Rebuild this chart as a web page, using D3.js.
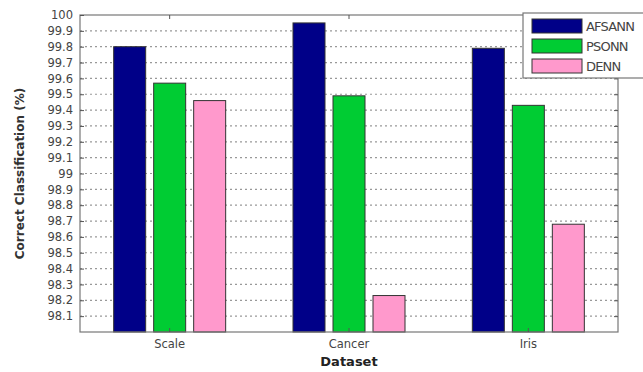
<!DOCTYPE html>
<html><head><meta charset="utf-8">
<script src="https://cdn.jsdelivr.net/npm/d3@7"></script>
<style>body{margin:0;background:#fff;} svg{display:block;}</style>
</head><body>
<svg id="c" width="643" height="372"></svg>
<script>
const categories = ["Scale", "Cancer", "Iris"];
const seriesNames = ["AFSANN", "PSONN", "DENN"];
const AFSANN = [99.80, 99.95, 99.79];
const PSONN = [99.57, 99.49, 99.43];
const DENN = [99.46, 98.23, 98.68];
const yTicks = [98.1,98.2,98.3,98.4,98.5,98.6,98.7,98.8,98.9,99,99.1,99.2,99.3,99.4,99.5,99.6,99.7,99.8,99.9,100];
const colors = ["#000088", "#00cc33", "#ff99cc"];
const values = [AFSANN, PSONN, DENN];

const svg = d3.select("#c");
const L = 80, R = 618, T = 15, B = 332;
const x = d3.scaleBand().domain(categories).range([L, R]).padding(0);
const xi = d3.scaleBand().domain(seriesNames).range([0, 112]).paddingInner(0.2).paddingOuter(0);
const y = d3.scaleLinear().domain([98, 100]).range([B, T]);

// grid
svg.append("g").selectAll("line").data(yTicks.filter(d => d < 100)).join("line")
  .attr("x1", L).attr("x2", R).attr("y1", d => y(d)).attr("y2", d => y(d))
  .attr("stroke", "#999").attr("stroke-width", 1.2).attr("stroke-dasharray", "2,3");

// bars
categories.forEach((c, ci) => {
  const g = svg.append("g").attr("transform", `translate(${x(c) + x.bandwidth()/2 - 56},0)`);
  seriesNames.forEach((s, si) => {
    g.append("rect").attr("x", xi(s)).attr("width", xi.bandwidth())
      .attr("y", y(values[si][ci])).attr("height", B - y(values[si][ci]))
      .attr("fill", colors[si]).attr("stroke", "#333").attr("stroke-width", 1);
  });
});

// frame
svg.append("rect").attr("x", L).attr("y", T).attr("width", R - L).attr("height", B - T)
  .attr("fill", "none").attr("stroke", "#777").attr("stroke-width", 1.2);

// y axis left
const yAxis = d3.axisLeft(y).tickValues(yTicks).tickSize(-4).tickPadding(7).tickFormat(d => d3.format("")(+d.toFixed(1)));
const ga = svg.append("g").attr("transform", `translate(${L},0)`).call(yAxis);
ga.select(".domain").remove();
ga.selectAll("line").attr("stroke", "#555");
ga.selectAll("text").attr("font-family", "DejaVu Sans, sans-serif").attr("font-size", 11.5).attr("fill", "#444");
// right ticks
const gr = svg.append("g").attr("transform", `translate(${R},0)`).call(d3.axisRight(y).tickValues(yTicks).tickSize(-4).tickFormat(""));
gr.select(".domain").remove(); gr.selectAll("line").attr("stroke", "#555");

// x axis
const gx = svg.append("g").attr("transform", `translate(0,${B})`).call(d3.axisBottom(x).tickSize(-4).tickPadding(8));
gx.select(".domain").remove(); gx.selectAll("line").attr("stroke", "#555");
gx.selectAll("text").attr("font-family", "DejaVu Sans, sans-serif").attr("font-size", 11.5).attr("fill", "#444");
const gt = svg.append("g").attr("transform", `translate(0,${T})`).call(d3.axisTop(x).tickSize(-4).tickFormat(""));
gt.select(".domain").remove(); gt.selectAll("line").attr("stroke", "#555");

// titles
svg.append("text").attr("x", (L + R)/2).attr("y", 366).attr("text-anchor", "middle")
  .attr("font-family", "DejaVu Sans, sans-serif").attr("font-weight", "bold").attr("font-size", 13).attr("fill", "#222").text("Dataset");
svg.append("text").attr("transform", `translate(24,${(T+B)/2}) rotate(-90)`).attr("text-anchor", "middle")
  .attr("font-family", "DejaVu Sans, sans-serif").attr("font-weight", "bold").attr("font-size", 12).attr("fill", "#333").text("Correct Classification (%)");

// legend
const lg = svg.append("g");
lg.append("rect").attr("x", 523).attr("y", 13).attr("width", 130).attr("height", 65)
  .attr("fill", "#fff").attr("stroke", "#777").attr("stroke-width", 1.2);
seriesNames.forEach((s, i) => {
  lg.append("rect").attr("x", 532).attr("y", 19 + i * 20).attr("width", 50).attr("height", 14)
    .attr("fill", colors[i]).attr("stroke", "#333");
  lg.append("text").attr("x", 586).attr("y", 31 + i * 20).attr("font-family", "DejaVu Sans, sans-serif")
    .attr("font-size", 13).attr("letter-spacing", -0.8).attr("fill", "#444").text(s);
});
</script>
</body></html>
